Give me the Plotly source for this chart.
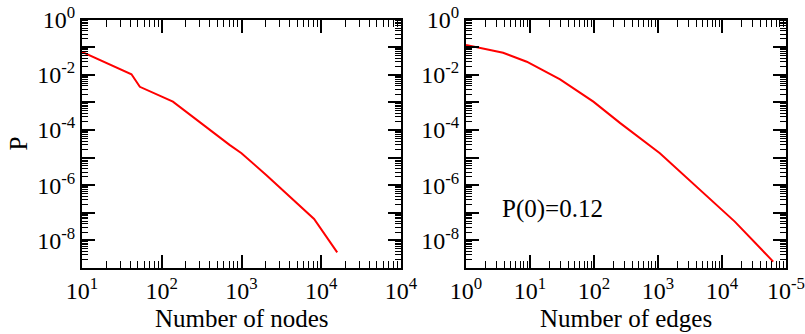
import plotly.graph_objects as go

# Left panel: distribution of number of nodes
nodes_x = [10, 41.7, 53.1, 138, 708, 1000, 2040, 3980, 8130, 15850]
nodes_p = [6.8e-2, 1.05e-2, 3.7e-3, 1.07e-3, 2.9e-5, 1.45e-5, 2.35e-6, 3.9e-7, 6.0e-8, 3.7e-9]

# Right panel: distribution of number of edges
edges_x = [1, 3.8, 8.9, 29.5, 97.7, 257, 1070, 3980, 9330, 15850, 63100]
edges_p = [0.12, 6.3e-2, 3.0e-2, 6.9e-3, 1.07e-3, 1.78e-4, 1.45e-5, 8.9e-7, 1.48e-7, 4.8e-8, 1.7e-9]

left_xticks = [1e1, 1e2, 1e3, 1e4, 1e5]
left_xlabels = ["10<sup>1</sup>", "10<sup>2</sup>", "10<sup>3</sup>", "10<sup>4</sup>", "10<sup>4</sup>"]
right_xticks = [1e0, 1e1, 1e2, 1e3, 1e4, 1e5]
right_xlabels = ["10<sup>0</sup>", "10<sup>1</sup>", "10<sup>2</sup>", "10<sup>3</sup>", "10<sup>4</sup>", "10<sup>-5</sup>"]
yticks = [10.0 ** e for e in range(-9, 1)]
ylabels = [("10<sup>%d</sup>" % e) if e % 2 == 0 else "" for e in range(-9, 1)]

annotation_text = "P(0)=0.12"

def minors(lo, hi):
    out = []
    for e in range(lo, hi):
        for m in range(2, 10):
            out.append(m * 10.0 ** e)
    return out

FONT = "Liberation Serif"
RED = "#ff0000"

fig = go.Figure()
fig.add_trace(go.Scatter(x=nodes_x, y=nodes_p, mode="lines",
                         line=dict(color=RED, width=2), xaxis="x", yaxis="y",
                         showlegend=False))
fig.add_trace(go.Scatter(x=edges_x, y=edges_p, mode="lines",
                         line=dict(color=RED, width=2), xaxis="x2", yaxis="y2",
                         showlegend=False))

def xaxis(domain, rng, tv, tt, anchor):
    return dict(type="log", domain=domain, range=rng, anchor=anchor, automargin=False,
                tickmode="array", tickvals=tv, ticktext=tt,
                ticks="inside", ticklen=13, tickwidth=1.5, tickcolor="black",
                showline=True, linecolor="black", linewidth=2, mirror="allticks",
                showgrid=False, zeroline=False,
                tickfont=dict(family=FONT, size=24, color="black"),
                minor=dict(tickvals=minors(rng[0], rng[1]), ticks="inside",
                           ticklen=7, tickwidth=1, tickcolor="black", showgrid=False))

def yaxis(domain, anchor):
    return dict(type="log", domain=domain, range=[-9, 0], anchor=anchor, automargin=False,
                tickmode="array", tickvals=yticks, ticktext=ylabels,
                ticks="inside", ticklen=13, tickwidth=1.5, tickcolor="black",
                showline=True, linecolor="black", linewidth=2, mirror="allticks",
                showgrid=False, zeroline=False,
                tickfont=dict(family=FONT, size=24, color="black"),
                minor=dict(tickvals=minors(-9, 0), ticks="inside",
                           ticklen=6, tickwidth=1, tickcolor="black", showgrid=False))

ydom = [1 - 268 / 334, 1 - 19.7 / 334]
fig.update_layout(
    width=805, height=334,
    margin=dict(l=0, r=0, t=0, b=0, autoexpand=False),
    paper_bgcolor="white", plot_bgcolor="white",
    font=dict(family=FONT, color="black"),
    xaxis=xaxis([82 / 805, 401 / 805], [1, 5], left_xticks, left_xlabels, "y"),
    yaxis=yaxis(ydom, "x"),
    xaxis2=xaxis([466 / 805, 786 / 805], [0, 5], right_xticks, right_xlabels, "y2"),
    yaxis2=yaxis(ydom, "x2"),
    annotations=[
        dict(text="Number of nodes", x=(82 + 401) / 2 / 805, y=1 - 318 / 334,
             xref="paper", yref="paper", showarrow=False,
             font=dict(family=FONT, size=25, color="black"), xanchor="center", yanchor="middle"),
        dict(text="Number of edges", x=(466 + 786) / 2 / 805, y=1 - 318 / 334,
             xref="paper", yref="paper", showarrow=False,
             font=dict(family=FONT, size=25, color="black"), xanchor="center", yanchor="middle"),
        dict(text="P", x=17.5 / 805, y=1 - 144 / 334, textangle=-90,
             xref="paper", yref="paper", showarrow=False,
             font=dict(family=FONT, size=25, color="black"), xanchor="center", yanchor="middle"),
        dict(text=annotation_text, x=500 / 805, y=1 - 209 / 334,
             xref="paper", yref="paper", showarrow=False,
             font=dict(family=FONT, size=25, color="black"), xanchor="left", yanchor="middle"),
    ],
)

fig.write_html("out.html")
